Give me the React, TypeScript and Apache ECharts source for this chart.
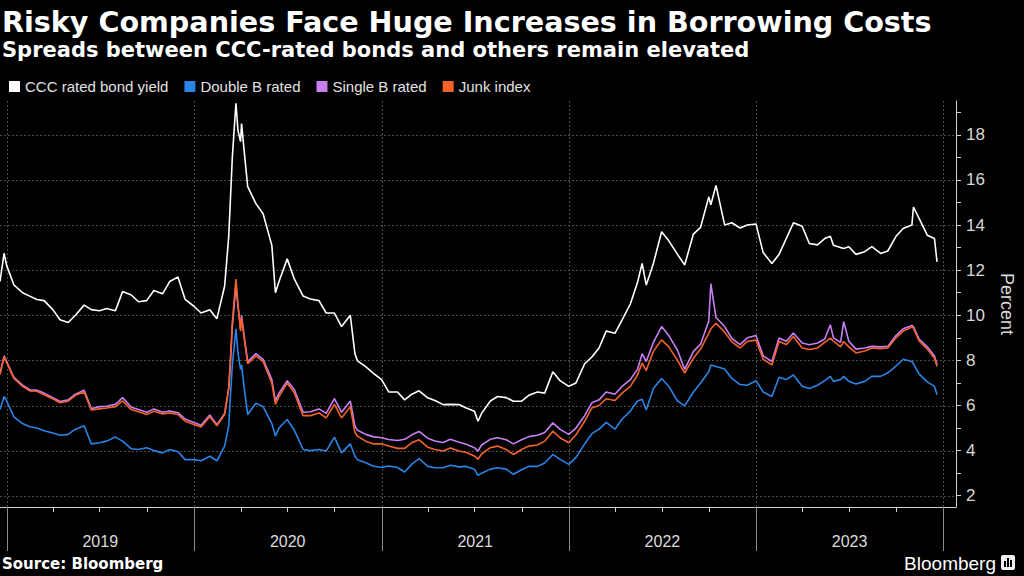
import { useEffect, useRef } from "react";
import * as echarts from "echarts";

const dates = [
  "2018-12-19", "2018-12-27",
  "2019-01-01", "2019-01-15", "2019-02-01", "2019-02-15", "2019-03-01", "2019-03-15", "2019-04-01", "2019-04-15",
  "2019-05-01", "2019-05-15", "2019-06-01", "2019-06-15", "2019-07-01", "2019-07-15", "2019-08-01", "2019-08-15",
  "2019-09-01", "2019-09-15", "2019-10-01", "2019-10-15", "2019-11-01", "2019-11-15", "2019-12-01", "2019-12-15",
  "2020-01-01", "2020-01-15", "2020-02-01", "2020-02-15", "2020-03-01", "2020-03-09", "2020-03-12", "2020-03-16",
  "2020-03-23", "2020-03-27", "2020-04-01", "2020-04-03", "2020-04-08", "2020-04-15", "2020-05-01", "2020-05-15",
  "2020-06-01", "2020-06-08", "2020-06-15", "2020-07-01", "2020-07-15", "2020-08-01", "2020-08-15", "2020-09-01",
  "2020-09-15", "2020-10-01", "2020-10-15", "2020-11-01", "2020-11-10", "2020-11-15", "2020-12-01", "2020-12-15",
  "2021-01-01", "2021-01-15", "2021-02-01", "2021-02-15", "2021-03-01", "2021-03-15", "2021-04-01", "2021-04-15",
  "2021-05-01", "2021-05-15", "2021-06-01", "2021-06-15", "2021-07-01", "2021-07-08", "2021-07-15", "2021-08-01",
  "2021-08-15", "2021-09-01", "2021-09-15", "2021-10-01", "2021-10-15", "2021-11-01", "2021-11-15", "2021-12-01",
  "2021-12-15",
  "2022-01-01", "2022-01-15", "2022-02-01", "2022-02-15", "2022-03-01", "2022-03-15", "2022-04-01", "2022-04-15",
  "2022-05-01", "2022-05-15", "2022-05-24", "2022-06-01", "2022-06-15", "2022-07-01", "2022-07-15", "2022-08-01",
  "2022-08-15", "2022-09-01", "2022-09-15", "2022-10-01", "2022-10-05", "2022-10-15", "2022-11-01", "2022-11-15",
  "2022-12-01", "2022-12-15",
  "2023-01-01", "2023-01-15", "2023-02-01", "2023-02-15", "2023-03-01", "2023-03-15", "2023-04-01", "2023-04-15",
  "2023-05-01", "2023-05-15", "2023-05-26", "2023-06-01", "2023-06-15", "2023-06-21", "2023-07-01", "2023-07-15",
  "2023-08-01", "2023-08-15", "2023-09-01", "2023-09-15", "2023-10-01", "2023-10-15", "2023-11-01", "2023-11-04",
  "2023-11-15", "2023-12-01", "2023-12-15", "2023-12-20",
];

const cccYield = [
  11.5, 12.75,
  12.2, 11.35, 11.0, 10.85, 10.7, 10.65, 10.25, 9.8, 9.68, 10.0, 10.45, 10.25, 10.2, 10.3, 10.2, 11.05, 10.9, 10.6, 10.65, 11.1, 10.95, 11.5, 11.7, 10.7,
  10.4, 10.1, 10.25, 9.85, 11.3, 13.5, 15.0, 17.0, 19.4, 18.2, 17.7, 18.5, 17.3, 15.7, 14.95, 14.5, 13.1, 11.0, 11.5, 12.5, 11.6, 10.85, 10.72, 10.65, 10.1, 10.1, 9.5, 10.0, 8.3, 7.98, 7.72, 7.45,
  7.15, 6.6, 6.6, 6.25, 6.5, 6.65, 6.34, 6.22, 6.04, 6.05, 6.04, 5.89, 5.75, 5.3, 5.65, 6.2, 6.4, 6.35, 6.19, 6.19, 6.45, 6.6, 6.55, 7.5, 7.1,
  6.85, 7.0, 7.85, 8.15, 8.55, 9.3, 9.2, 9.8, 10.5, 11.45, 12.3, 11.34, 12.3, 13.7, 13.3, 12.7, 12.23, 13.6, 13.9, 15.25, 14.9, 15.76, 14.0, 14.1, 13.87, 14.0,
  14.05, 12.78, 12.3, 12.7, 13.4, 14.1, 13.95, 13.18, 13.12, 13.4, 13.5, 13.1, 13.0, 12.96, 13.04, 12.7, 12.82, 13.04, 12.74, 12.85, 13.5, 13.85, 14.0, 14.8, 14.3, 13.55, 13.4, 12.37,
];

const doubleB = [
  5.82, 6.4,
  6.2, 5.5, 5.2, 5.06, 5.0, 4.88, 4.78, 4.68, 4.72, 4.95, 5.1, 4.3, 4.35, 4.42, 4.6, 4.42, 4.08, 4.05, 4.13, 4.0, 3.9, 4.05, 3.95, 3.6,
  3.6, 3.55, 3.75, 3.55, 4.2, 5.1, 6.3, 7.8, 9.4, 8.33, 7.6, 7.8, 6.8, 5.6, 6.1, 5.95, 5.2, 4.65, 5.0, 5.38, 4.9, 4.05, 4.0, 4.05, 3.98, 4.6, 3.9, 4.3, 3.75, 3.6, 3.46, 3.32,
  3.25, 3.32, 3.25, 3.05, 3.4, 3.65, 3.3, 3.24, 3.24, 3.35, 3.28, 3.3, 3.17, 2.9, 3.0, 3.18, 3.24, 3.18, 2.95, 3.15, 3.3, 3.3, 3.45, 3.83, 3.61,
  3.39, 3.7, 4.3, 4.75, 4.95, 5.25, 4.95, 5.4, 5.75, 6.2, 6.28, 5.8, 6.75, 7.2, 6.85, 6.2, 5.98, 6.6, 7.0, 7.5, 7.8, 7.73, 7.62, 7.2, 6.93, 6.9,
  7.1, 6.6, 6.4, 7.25, 7.15, 7.35, 6.85, 6.75, 6.9, 7.1, 7.29, 7.07, 7.15, 7.29, 7.07, 6.95, 7.07, 7.3, 7.29, 7.45, 7.75, 8.05, 7.95, 7.85, 7.4, 7.05, 6.85, 6.48,
];

const singleB = [
  7.42, 8.2,
  7.95, 7.25, 6.9, 6.7, 6.68, 6.55, 6.35, 6.18, 6.25, 6.5, 6.68, 5.86, 5.95, 5.97, 6.05, 6.35, 5.92, 5.82, 5.7, 5.85, 5.7, 5.75, 5.68, 5.4,
  5.25, 5.12, 5.58, 5.15, 5.65, 6.75, 7.8, 9.5, 11.3, 10.4, 9.4, 10.0, 9.1, 7.95, 8.3, 8.05, 7.15, 6.2, 6.55, 7.1, 6.7, 5.7, 5.72, 5.85, 5.65, 6.3, 5.7, 6.2, 5.1, 4.9, 4.72, 4.62,
  4.57, 4.49, 4.45, 4.5, 4.7, 4.85, 4.55, 4.43, 4.36, 4.5, 4.37, 4.28, 4.13, 3.98, 4.25, 4.5, 4.57, 4.48, 4.3, 4.48, 4.62, 4.68, 4.8, 5.23, 4.94,
  4.72, 5.0, 5.55, 6.12, 6.25, 6.6, 6.5, 6.85, 7.15, 7.6, 8.3, 7.95, 8.8, 9.5, 9.1, 8.45, 7.6, 8.4, 8.72, 9.75, 11.4, 9.9, 9.5, 8.97, 8.7, 9.0,
  9.1, 8.2, 7.95, 8.99, 8.85, 9.21, 8.77, 8.69, 8.77, 8.95, 9.58, 9.0, 8.8, 9.72, 8.85, 8.5, 8.55, 8.62, 8.6, 8.62, 9.1, 9.4, 9.55, 9.5, 8.95, 8.6, 8.2, 7.81,
];

const junkIndex = [
  7.37, 8.15,
  7.9, 7.2, 6.85, 6.65, 6.63, 6.48, 6.3, 6.12, 6.19, 6.45, 6.6, 5.8, 5.85, 5.89, 5.95, 6.2, 5.82, 5.72, 5.6, 5.75, 5.62, 5.67, 5.6, 5.3,
  5.16, 5.05, 5.5, 5.1, 5.6, 6.8, 7.9, 9.7, 11.6, 10.5, 9.3, 9.9, 9.0, 7.85, 8.2, 7.95, 7.0, 6.05, 6.4, 7.0, 6.55, 5.55, 5.55, 5.67, 5.45, 6.05, 5.45, 5.95, 4.8, 4.64, 4.42, 4.3,
  4.3, 4.2, 4.1, 4.1, 4.35, 4.48, 4.15, 4.05, 3.98, 4.12, 3.98, 3.92, 3.76, 3.62, 3.85, 4.13, 4.2, 4.05, 3.83, 4.05, 4.2, 4.25, 4.42, 4.86, 4.57,
  4.35, 4.7, 5.3, 5.89, 6.0, 6.3, 6.22, 6.55, 6.85, 7.35, 7.88, 7.55, 8.4, 8.91, 8.6, 8.0, 7.44, 8.1, 8.5, 9.2, 9.4, 9.65, 9.25, 8.82, 8.55, 8.84,
  8.9, 8.05, 7.8, 8.84, 8.7, 9.06, 8.55, 8.48, 8.55, 8.8, 8.99, 8.85, 8.6, 8.84, 8.6, 8.33, 8.42, 8.55, 8.52, 8.55, 9.0, 9.3, 9.48, 9.43, 8.86, 8.5, 8.1, 7.73,
];

const seriesNames = ["CCC rated bond yield", "Double B rated", "Single B rated", "Junk index"];
const seriesColors = ["#ffffff", "#2a84e6", "#c77ff2", "#f4622a"];
const yearLabels = ["2019", "2020", "2021", "2022", "2023"];
const yearBounds = ["2019-01-01", "2020-01-01", "2021-01-01", "2022-01-01", "2023-01-01", "2024-01-01"];
const gridValues = [2, 4, 6, 8, 10, 12, 14, 16, 18];
const axisStart = "2018-12-19";
const axisEnd = "2024-01-26";
const yMin = 1.5;
const yMax = 19.5;

const ts = (s: string) => new Date(s + "T00:00:00").getTime();
const SANS = "Liberation Sans, Arial, sans-serif";
const WIDE = "DejaVu Sans, Verdana, sans-serif";

export default function App() {
  const ref = useRef<HTMLDivElement>(null);

  useEffect(() => {
    const chart = echarts.init(ref.current!, null, { renderer: "svg" });
    const allSeries = [cccYield, doubleB, singleB, junkIndex];

    chart.setOption({
      animation: false,
      backgroundColor: "#000000",
      grid: { left: 0, right: 57, top: 101, bottom: 69, containLabel: false },
      legend: {
        left: 4,
        top: 74,
        icon: "rect",
        itemWidth: 11,
        itemHeight: 11,
        itemGap: 16,
        selectedMode: false,
        data: seriesNames,
        textStyle: { color: "#e2e2e2", fontSize: 15, fontFamily: SANS },
      },
      xAxis: {
        type: "time",
        min: ts(axisStart),
        max: ts(axisEnd),
        axisLine: { show: true, lineStyle: { color: "#cfcfcf", width: 1 } },
        axisTick: { show: false },
        axisLabel: { show: false },
        splitLine: { show: false },
      },
      yAxis: {
        type: "value",
        position: "right",
        min: yMin,
        max: yMax,
        splitNumber: 18,
        minInterval: 1,
        maxInterval: 1,
        axisLine: { show: true, lineStyle: { color: "#cfcfcf", width: 1 } },
        axisTick: { show: true, inside: false, length: 5, lineStyle: { color: "#cfcfcf" } },
        axisLabel: {
          color: "#d8d8d8",
          fontSize: 17,
          margin: 10,
          fontFamily: SANS,
          showMinLabel: false,
          showMaxLabel: false,
          formatter: (v: number) =>
            Math.abs(v - Math.round(v)) < 1e-6 && Math.round(v) % 2 === 0 ? String(Math.round(v)) : "",
        },
        splitLine: { show: false },
        name: "Percent",
        nameLocation: "middle",
        nameRotate: -90,
        nameGap: 42,
        nameTextStyle: { color: "#d8d8d8", fontSize: 18, fontFamily: SANS },
      },
      series: seriesNames.map((name, k) => ({
        name,
        type: "line",
        showSymbol: false,
        symbol: "none",
        data: dates.map((d, i) => [ts(d), allSeries[k][i]]),
        lineStyle: { color: seriesColors[k], width: 1.6 },
        itemStyle: { color: seriesColors[k] },
        emphasis: { disabled: true },
        z: 3 + k,
      })),
    });

    const px = (d: string, v: number) => chart.convertToPixel({ gridIndex: 0 }, [ts(d), v]) as number[];
    const yTop = px(yearBounds[0], yMax)[1];
    const yBot = px(yearBounds[0], yMin)[1];
    const xLeft = px(axisStart, yMin)[0];
    const xRight = px(axisEnd, yMin)[0];

    const gridStyle = { stroke: "#4c4c4c", lineWidth: 1, lineDash: [2, 2] };
    const graphics: any[] = [];

    gridValues.forEach((v) => {
      const y = Math.round(px(axisStart, v)[1]) + 0.5;
      graphics.push({ type: "line", silent: true, z: 0, shape: { x1: xLeft, y1: y, x2: xRight, y2: y }, style: gridStyle });
    });
    yearBounds.forEach((d) => {
      const x = Math.round(px(d, yMin)[0]) + 0.5;
      graphics.push({ type: "line", silent: true, z: 0, shape: { x1: x, y1: yTop, x2: x, y2: yBot }, style: gridStyle });
      graphics.push({ type: "line", silent: true, z: 1, shape: { x1: x, y1: yBot, x2: x, y2: yBot + 44 }, style: { stroke: "#8a8a8a", lineWidth: 1 } });
    });
    for (let yr = 2019; yr <= 2023; yr++) {
      [4, 7, 10].forEach((m) => {
        const d = `${yr}-${String(m).padStart(2, "0")}-01`;
        const x = Math.round(px(d, yMin)[0]) + 0.5;
        graphics.push({ type: "line", silent: true, z: 1, shape: { x1: x, y1: yBot, x2: x, y2: yBot + 5 }, style: { stroke: "#cfcfcf", lineWidth: 1 } });
      });
    }
    yearLabels.forEach((label, i) => {
      const x = (px(yearBounds[i], yMin)[0] + px(yearBounds[i + 1], yMin)[0]) / 2;
      graphics.push({
        type: "text",
        silent: true,
        x,
        y: yBot + 34,
        style: {
          text: label,
          fill: "#dcdcdc",
          fontSize: 16,
          fontFamily: SANS,
          textAlign: "center",
          textVerticalAlign: "middle",
        },
      });
    });

    graphics.push(
      {
        type: "text",
        x: 2,
        y: 22,
        style: {
          text: "Risky Companies Face Huge Increases in Borrowing Costs",
          fill: "#ffffff",
          fontSize: 28.6,
          fontWeight: "bold",
          fontFamily: WIDE,
          textVerticalAlign: "middle",
        },
      },
      {
        type: "text",
        x: 2,
        y: 50,
        style: {
          text: "Spreads between CCC-rated bonds and others remain elevated",
          fill: "#ffffff",
          fontSize: 21,
          fontWeight: "bold",
          fontFamily: WIDE,
          textVerticalAlign: "middle",
        },
      },
      {
        type: "text",
        x: 2,
        y: 564,
        style: {
          text: "Source: Bloomberg",
          fill: "#ffffff",
          fontSize: 15,
          fontWeight: "bold",
          fontFamily: WIDE,
          textVerticalAlign: "middle",
        },
      },
      {
        type: "text",
        x: 996,
        y: 563,
        style: {
          text: "Bloomberg",
          fill: "#ffffff",
          fontSize: 19,
          fontWeight: 500,
          fontFamily: SANS,
          textAlign: "right",
          textVerticalAlign: "middle",
        },
      },
      { type: "rect", x: 1001, y: 555, shape: { width: 14, height: 15, r: 2 }, style: { fill: "#f0f0f0" } },
      { type: "rect", x: 1004, y: 561, shape: { width: 2, height: 6 }, style: { fill: "#000" } },
      { type: "rect", x: 1007, y: 558, shape: { width: 2, height: 9 }, style: { fill: "#000" } },
      { type: "rect", x: 1010, y: 560, shape: { width: 2, height: 7 }, style: { fill: "#000" } }
    );

    chart.setOption({ graphic: graphics });

    return () => chart.dispose();
  }, []);

  return (
    <div
      ref={ref}
      style={{ position: "absolute", left: 0, top: 0, width: 1024, height: 576, background: "#000" }}
    />
  );
}
